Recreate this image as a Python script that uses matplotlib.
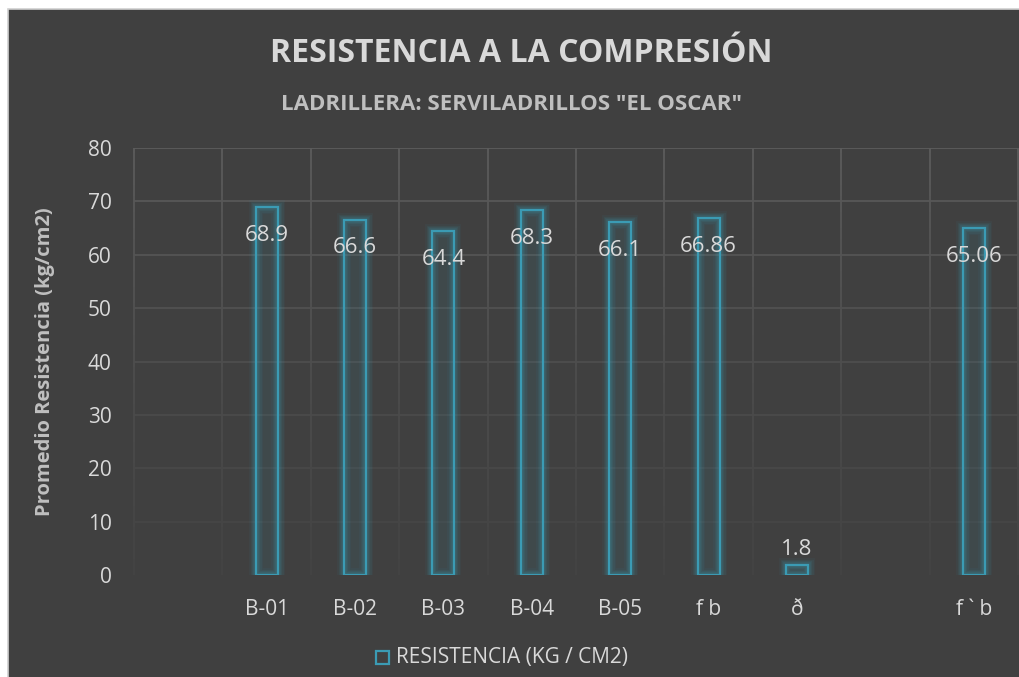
import numpy as np
import matplotlib
matplotlib.use("Agg")
import matplotlib.pyplot as plt
from matplotlib.patches import Rectangle
from matplotlib.collections import LineCollection
from matplotlib.colors import to_rgb

plt.rcParams['font.family'] = ['Open Sans', 'DejaVu Sans']

categories = ["", "B-01", "B-02", "B-03", "B-04", "B-05", "f b", "ð", "", "f ` b"]
values = [np.nan, 68.9, 66.6, 64.4, 68.3, 66.1, 66.86, 1.8, np.nan, 65.06]
value_labels = ["", "68.9", "66.6", "64.4", "68.3", "66.1", "66.86", "1.8", "", "65.06"]
y_ticks = [0, 10, 20, 30, 40, 50, 60, 70, 80]

title = "RESISTENCIA A LA COMPRESIÓN"
subtitle = 'LADRILLERA: SERVILADRILLOS "EL OSCAR"'
y_label = "Promedio Resistencia (kg/cm2)"
series_name = "RESISTENCIA (KG / CM2)"

BG = "#404040"
TEAL = "#3b9bb4"
TEXT = "#d9d9d9"
SUB = "#bfbfbf"

W, H = 1020, 677
fig = plt.figure(figsize=(W / 100, H / 100), dpi=100, facecolor="white")

# chart frame
fig.patches.append(Rectangle((8 / W, -0.01), 1.02, 1 - 9 / H + 0.01, transform=fig.transFigure,
                             facecolor=BG, edgecolor="#d0d0d0", linewidth=1.2, zorder=-10))

ax = fig.add_axes([134 / W, 1 - 575 / H, (1018 - 134) / W, (575 - 148) / H])
ax.set_zorder(1)
ax.set_facecolor("none")
n = len(categories)
x = np.arange(n)
ax.set_xlim(-0.5, n - 0.5)
ax.set_ylim(0, 80)
for s in ax.spines.values():
    s.set_visible(False)

# gridlines fading toward the bottom
grid_top = np.array(to_rgb("#5c5c5c"))
bg_rgb = np.array(to_rgb(BG))
def grid_col(y):
    t = (y / 80) ** 1.3
    return tuple(bg_rgb + (grid_top - bg_rgb) * (0.15 + 0.85 * t))

for yv in y_ticks[1:]:
    ax.axhline(yv, color=grid_col(yv), linewidth=1.3, zorder=0.5)
segs, cols = [], []
ys = np.linspace(0, 80, 81)
for xb in np.arange(-0.5, n + 0.5, 1.0):
    for a, b in zip(ys[:-1], ys[1:]):
        segs.append([(xb, a), (xb, b)])
        cols.append(grid_col((a + b) / 2))
ax.add_collection(LineCollection(segs, colors=cols, linewidths=1.3, zorder=0.5, clip_on=False))

width = 0.25
# soft glow around the bars
for lw, al in [(10, 0.06), (8, 0.08), (6, 0.10), (4, 0.15)]:
    ax.bar(x, values, width=width, facecolor="none", edgecolor=TEAL, linewidth=lw, alpha=al, zorder=2)
ax.bar(x, values, width=width, facecolor=(0.23, 0.6, 0.7, 0.10), edgecolor=TEAL, linewidth=1.6, zorder=3)

for xi, v, lab in zip(x, values, value_labels):
    if np.isnan(v):
        continue
    if v > 10:
        ax.annotate(lab, (xi, v), xytext=(0, -20.5), textcoords="offset points",
                    ha="center", va="center", fontsize=16, color=TEXT, zorder=4)
    else:
        ax.annotate(lab, (xi, v), xytext=(0, 11.5), textcoords="offset points",
                    ha="center", va="center", fontsize=16, color=TEXT, zorder=4)

ax.set_xticks(x)
ax.set_xticklabels(categories, fontsize=15, color=TEXT)
ax.set_yticks(y_ticks)
ax.set_yticklabels([str(v) for v in y_ticks], fontsize=15, color=TEXT)
ax.tick_params(axis="x", length=0, pad=17)
ax.tick_params(axis="y", length=0, pad=16)

fig.text(45 / W, 1 - 362 / H, y_label, rotation=90, ha="center", va="center",
         fontsize=14.5, fontweight="bold", color=SUB)
fig.text(521 / W, 1 - 53 / H, title, ha="center", va="center",
         fontsize=23, fontweight="bold", color=TEXT)
fig.text(512 / W, 1 - 104 / H, subtitle, ha="center", va="center",
         fontsize=16, fontweight="bold", color=SUB)

# legend
fig.patches.append(Rectangle((376 / W, 1 - 664 / H), 13 / W, 13 / H, transform=fig.transFigure,
                             facecolor="none", edgecolor=TEAL, linewidth=1.6, zorder=5))
fig.text(396 / W, 1 - 657 / H, series_name, ha="left", va="center", fontsize=15, color=TEXT)

fig.savefig("out.png", dpi=100, facecolor="white")
